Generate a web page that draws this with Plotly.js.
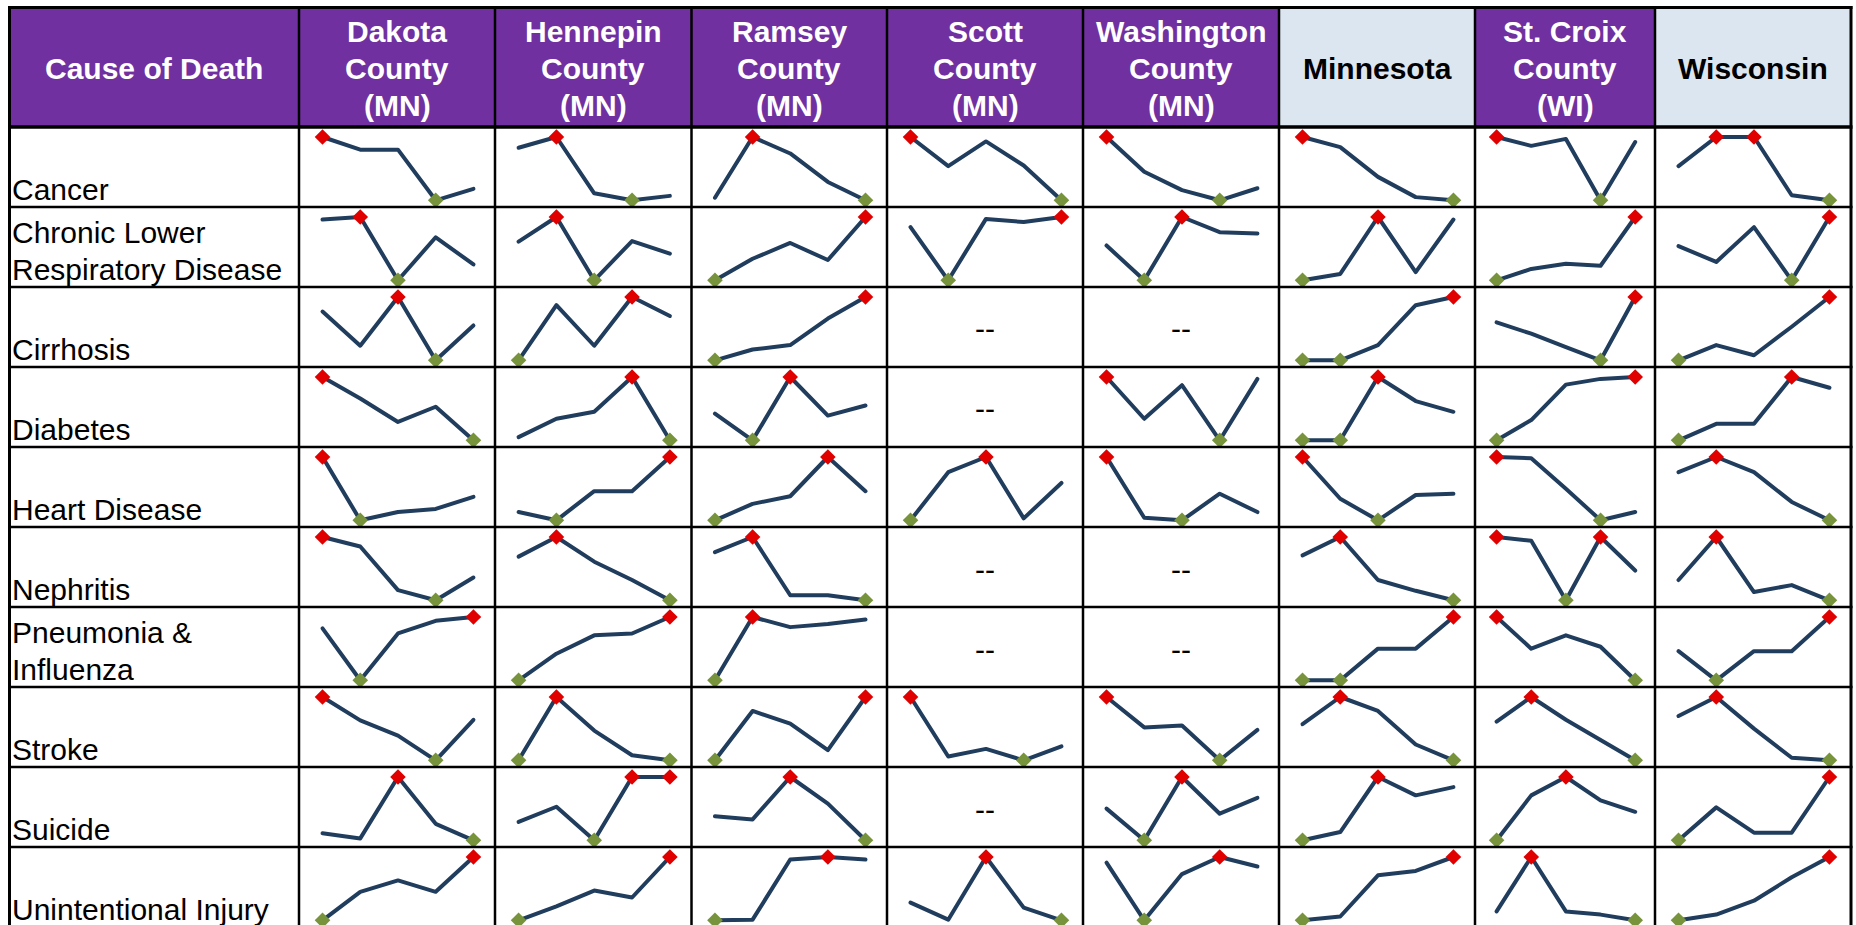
<!DOCTYPE html>
<html>
<head>
<meta charset="utf-8">
<script src="https://cdn.plot.ly/plotly-3.0.1.min.js"></script>
<style>
  html, body { margin: 0; padding: 0; background: #ffffff; }
  #chart { width: 1856px; height: 925px; }
  #chart .js-line { stroke-linejoin: round; stroke-linecap: round; }
</style>
</head>
<body>
<div id="chart"></div>
<script>
// ---------------- DATA (relative sparkline values) ----------------
const causes = ["Cancer", "Chronic Lower<br>Respiratory Disease", "Cirrhosis", "Diabetes",
  "Heart Disease", "Nephritis", "Pneumonia &<br>Influenza", "Stroke", "Suicide", "Unintentional Injury"];
const causeHeader = "Cause of Death";
const regions = ["Dakota<br>County<br>(MN)", "Hennepin<br>County<br>(MN)", "Ramsey<br>County<br>(MN)",
  "Scott<br>County<br>(MN)", "Washington<br>County<br>(MN)", "Minnesota", "St. Croix<br>County<br>(WI)", "Wisconsin"];
const stateColumns = [false, false, false, false, false, true, false, true];
const periods = [1, 2, 3, 4, 5];
const noData = "--";

const dakota = [
  [100, 80, 80, 0, 18], [96, 100, 0, 68, 25], [77, 23, 100, 0, 55], [100, 66, 29, 53, 0],
  [100, 0, 13, 18, 37], [100, 85, 16, 0, 36], [82, 0, 74, 94, 100], [100, 63, 39, 0, 64],
  [11, 3, 100, 26, 0], [0, 45, 63, 45, 100]
];
const hennepin = [
  [83, 100, 11, 0, 7], [61, 100, 0, 62, 42], [0, 87, 23, 100, 70], [5, 34, 45, 100, 0],
  [13, 0, 46, 46, 100], [69, 100, 61, 32, 0], [0, 42, 71, 74, 100], [0, 100, 47, 8, 0],
  [29, 53, 0, 100, 100], [0, 22, 47, 36, 100]
];
const ramsey = [
  [4, 100, 74, 29, 0], [0, 34, 59, 32, 100], [0, 17, 24, 66, 100], [42, 0, 100, 39, 55],
  [0, 26, 38, 100, 46], [76, 100, 8, 8, 0], [0, 100, 84, 89, 96], [0, 78, 58, 16, 100],
  [38, 33, 100, 58, 0], [0, 1, 96, 100, 96]
];
const scott = [
  [100, 54, 93, 55, 0], [84, 0, 97, 92, 100], null, null,
  [0, 76, 100, 3, 59], null, null, [100, 6, 18, 0, 22],
  null, [28, 1, 100, 20, 0]
];
const washington = [
  [100, 45, 16, 0, 19], [55, 0, 100, 76, 74], null, [100, 34, 87, 0, 97],
  [100, 4, 0, 42, 13], null, null, [100, 52, 55, 0, 48],
  [50, 0, 100, 42, 67], [91, 0, 73, 100, 85]
];
const minnesota = [
  [100, 84, 37, 5, 0], [0, 10, 100, 13, 96], [0, 0, 24, 87, 100], [0, 0, 100, 62, 45],
  [100, 34, 0, 40, 42], [71, 100, 32, 15, 0], [0, 0, 50, 50, 100], [57, 100, 78, 25, 0],
  [0, 13, 100, 71, 84], [0, 6, 71, 78, 100]
];
const stcroix = [
  [100, 86, 97, 0, 92], [0, 18, 26, 23, 100], [60, 42, 21, 0, 100], [0, 32, 88, 97, 100],
  [100, 98, 50, 0, 13], [100, 94, 0, 100, 47], [100, 50, 71, 53, 0], [61, 100, 64, 32, 0],
  [0, 71, 100, 63, 45], [14, 100, 14, 9, 0]
];
const wisconsin = [
  [54, 100, 100, 8, 0], [54, 29, 84, 0, 100], [0, 24, 8, 53, 100], [0, 26, 26, 100, 83],
  [76, 100, 76, 29, 0], [32, 100, 13, 24, 0], [46, 0, 46, 46, 100], [70, 100, 50, 4, 0],
  [0, 52, 12, 12, 100], [0, 9, 31, 68, 100]
];
const series = [dakota, hennepin, ramsey, scott, washington, minnesota, stcroix, wisconsin];

// ---------------- LAYOUT GEOMETRY ----------------
const W = 1856, H = 925;
const colX = [9.5, 299, 495, 691.5, 887, 1083, 1279, 1475, 1655, 1851];
const rowY = [7.5, 127, 207, 287, 367, 447, 527, 607, 687, 767, 847, 927];
const FONT = "Liberation Sans, Arial, Helvetica, sans-serif";
const PURPLE = "#7030a0", LIGHT = "#dce6f1";
const LINE = "#213d5e", HIGH = "#e00000", LOW = "#77933c";
const HEAD_LINE = 37.3, LABEL_LINE = 37;

const px = v => v / W;
const py = v => 1 - v / H;

const traces = [];
const layout = {
  width: W, height: H,
  margin: { l: 0, r: 0, t: 0, b: 0 },
  paper_bgcolor: "#ffffff", plot_bgcolor: "rgba(0,0,0,0)",
  showlegend: false, hovermode: false,
  shapes: [], annotations: []
};

// header backgrounds
layout.shapes.push({ type: "rect", xref: "paper", yref: "paper", x0: px(colX[0]), x1: px(colX[1]),
  y0: py(rowY[1]), y1: py(rowY[0]), fillcolor: PURPLE, line: { width: 0 }, layer: "below" });
regions.forEach((r, i) => {
  layout.shapes.push({ type: "rect", xref: "paper", yref: "paper", x0: px(colX[i + 1]), x1: px(colX[i + 2]),
    y0: py(rowY[1]), y1: py(rowY[0]), fillcolor: stateColumns[i] ? LIGHT : PURPLE, line: { width: 0 }, layer: "below" });
});

// header texts (one annotation per text line)
const headerMid = 68.7;
function headerText(text, cx, color) {
  const lines = text.split("<br>");
  lines.forEach((ln, n) => {
    layout.annotations.push({ xref: "paper", yref: "paper", x: px(cx),
      y: py(headerMid + (n - (lines.length - 1) / 2) * HEAD_LINE),
      xanchor: "center", yanchor: "middle", showarrow: false, align: "center",
      text: "<b>" + ln + "</b>", font: { family: FONT, size: 30, color: color } });
  });
}
headerText(causeHeader, (colX[0] + colX[1]) / 2, "#ffffff");
regions.forEach((r, i) => headerText(r, (colX[i + 1] + colX[i + 2]) / 2, stateColumns[i] ? "#000000" : "#ffffff"));

// row labels (bottom aligned in their cells)
causes.forEach((c, j) => {
  const lines = c.split("<br>");
  lines.forEach((ln, n) => {
    const m = lines.length - 1 - n;
    layout.annotations.push({ xref: "paper", yref: "paper", x: px(9.5), y: py(rowY[j + 2] + 1 - m * LABEL_LINE),
      xanchor: "left", yanchor: "bottom", showarrow: false, align: "left",
      text: ln, font: { family: FONT, size: 30, color: "#000000" } });
  });
});

// sparklines
let k = 0;
series.forEach((reg, i) => {
  const L = colX[i + 1], R = colX[i + 2];
  reg.forEach((vals, j) => {
    const T = rowY[j + 1], B = rowY[j + 2];
    if (!vals) {
      layout.annotations.push({ xref: "paper", yref: "paper", x: px((L + R) / 2), y: py((T + B) / 2 + 2),
        xanchor: "center", yanchor: "middle", showarrow: false, text: noData,
        font: { family: FONT, size: 30, color: "#000000" } });
      return;
    }
    k += 1;
    const xa = "x" + (k === 1 ? "" : k), ya = "y" + (k === 1 ? "" : k);
    const xSpan = (periods.length - 1) / 0.77;
    const xlo = periods[0] - 0.12 * xSpan;
    const domBot = Math.min(B, H);
    const h = domBot - T;
    const mx = Math.max(...vals), mn = Math.min(...vals);
    const span = (mx - mn) * h / (B - T - 16.7);
    const hi = mx + span * 10 / h;
    const lo = hi - span;
    layout["xaxis" + (k === 1 ? "" : k)] = { domain: [px(L), px(R)], range: [xlo, xlo + xSpan],
      visible: false, fixedrange: true, anchor: ya };
    layout["yaxis" + (k === 1 ? "" : k)] = { domain: [py(domBot), py(T)], range: [lo, hi],
      visible: false, fixedrange: true, anchor: xa };
    traces.push({ type: "scatter", mode: "lines", x: periods, y: vals, xaxis: xa, yaxis: ya,
      line: { color: LINE, width: 4 }, hoverinfo: "skip", cliponaxis: false });
    const hx = [], hy = [], lx = [], ly = [];
    vals.forEach((v, n) => {
      if (v === mx) { hx.push(periods[n]); hy.push(v); }
      if (v === mn) { lx.push(periods[n]); ly.push(v); }
    });
    traces.push({ type: "scatter", mode: "markers", x: lx, y: ly, xaxis: xa, yaxis: ya, cliponaxis: false,
      marker: { symbol: "diamond", size: 12, color: LOW, line: { width: 0 } }, hoverinfo: "skip" });
    traces.push({ type: "scatter", mode: "markers", x: hx, y: hy, xaxis: xa, yaxis: ya, cliponaxis: false,
      marker: { symbol: "diamond", size: 12, color: HIGH, line: { width: 0 } }, hoverinfo: "skip" });
  });
});

// grid lines
colX.forEach((x, i) => {
  const outer = (i === 0 || i === colX.length - 1);
  layout.shapes.push({ type: "line", xref: "paper", yref: "paper", x0: px(x), x1: px(x),
    y0: py(rowY[0] - 1.5), y1: py(H + 5), line: { color: "#000000", width: outer ? 3 : 2.5 }, layer: "above" });
});
rowY.slice(0, rowY.length - 1).forEach((y, i) => {
  const wdt = i === 0 ? 3 : (i === 1 ? 3.5 : 2.5);
  layout.shapes.push({ type: "line", xref: "paper", yref: "paper", x0: px(colX[0] - 1.5), x1: px(colX[colX.length - 1] + 1.5),
    y0: py(y), y1: py(y), line: { color: "#000000", width: wdt }, layer: "above" });
});

Plotly.newPlot("chart", traces, layout, { staticPlot: true, displayModeBar: false });
</script>
</body>
</html>
